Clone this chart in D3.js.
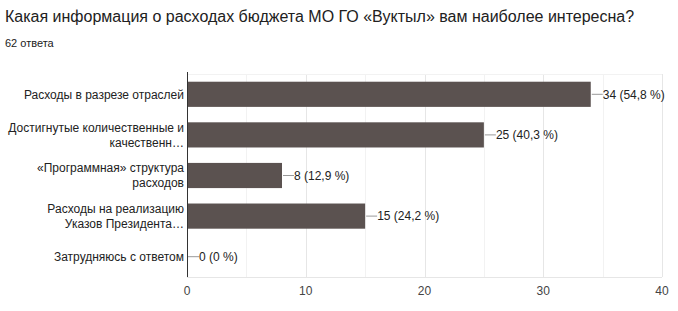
<!DOCTYPE html>
<html>
<head>
<meta charset="utf-8">
<script src="https://cdn.jsdelivr.net/npm/d3@7"></script>
<style>
  body { margin: 0; background: #fff; }
  svg { font-family: Arial, "Liberation Sans", sans-serif; }
</style>
</head>
<body>
<svg id="chart" width="678" height="311"></svg>
<script>
var title = "Какая информация о расходах бюджета МО ГО «Вуктыл» вам наиболее интересна?";
var subtitle = "62 ответа";
var categories = [
  ["Расходы в разрезе отраслей"],
  ["Достигнутые количественные и", "качественн…"],
  ["«Программная» структура", "расходов"],
  ["Расходы на реализацию", "Указов Президента…"],
  ["Затрудняюсь с ответом"]
];
var counts = [34, 25, 8, 15, 0];
var percents = ["54,8", "40,3", "12,9", "24,2", "0"];
var ticks = [0, 10, 20, 30, 40];

var svg = d3.select("#chart");
var plotLeft = 187, plotRight = 662, plotTop = 74, plotBottom = 277;

svg.append("text").attr("x", 5).attr("y", 22)
  .attr("font-size", 16).attr("fill", "#212121").text(title);
svg.append("text").attr("x", 5).attr("y", 47)
  .attr("font-size", 11).attr("fill", "#212121").text(subtitle);

var x = d3.scaleLinear().domain([0, 40]).range([plotLeft, plotRight]);
var y = d3.scaleBand().domain(d3.range(categories.length)).range([plotTop, plotBottom]).paddingInner(0.38).paddingOuter(0.19);

// grid
svg.append("g").selectAll("line").data(d3.range(5, 41, 5)).enter().append("line")
  .attr("x1", function(d){ return Math.round(x(d)) + 0.5; }).attr("x2", function(d){ return Math.round(x(d)) + 0.5; })
  .attr("y1", plotTop).attr("y2", plotBottom)
  .attr("stroke", function(d){ return d % 10 == 0 ? "#e6e6e6" : "#f2f2f2"; });
svg.append("line").attr("x1", plotLeft).attr("x2", plotRight).attr("y1", plotBottom + 0.5).attr("y2", plotBottom + 0.5).attr("stroke", "#e6e6e6");
svg.append("line").attr("x1", plotLeft).attr("x2", plotRight).attr("y1", plotTop + 0.5).attr("y2", plotTop + 0.5).attr("stroke", "#f2f2f2");

// bars
svg.append("g").selectAll("rect").data(counts).enter().append("rect")
  .attr("x", x(0))
  .attr("y", function(d, i){ return y(i); })
  .attr("width", function(d){ return x(d) - x(0); })
  .attr("height", y.bandwidth())
  .attr("fill", "#5b5250");

// axis line
svg.append("line").attr("x1", plotLeft + 0.5).attr("x2", plotLeft + 0.5).attr("y1", plotTop - 2).attr("y2", plotBottom)
  .attr("stroke", "#333");

// value labels with leader lines
var vl = svg.append("g").selectAll("g").data(counts).enter().append("g")
  .attr("transform", function(d, i){ return "translate(" + x(d) + "," + (y(i) + y.bandwidth() / 2) + ")"; });
vl.append("line").attr("x1", 1).attr("x2", 12).attr("stroke", "#999");
vl.append("text").attr("x", 12).attr("dy", "0.36em").attr("font-size", 12).attr("fill", "#222")
  .text(function(d, i){ return d + " (" + percents[i] + " %)"; });

// category labels
var cl = svg.append("g").selectAll("text").data(categories).enter().append("text")
  .attr("text-anchor", "end").attr("font-size", 12).attr("fill", "#222")
  .attr("transform", function(d, i){ return "translate(184," + (y(i) + y.bandwidth() / 2) + ")"; });
cl.selectAll("tspan").data(function(d){ return d; }).enter().append("tspan")
  .attr("x", 0)
  .attr("y", function(d, j, nodes){ return (j - (nodes.length - 1) / 2) * 15; })
  .attr("dy", "0.36em")
  .text(function(d){ return d; });

// x ticks
svg.append("g").selectAll("text").data(ticks).enter().append("text")
  .attr("x", function(d){ return x(d); }).attr("y", 295)
  .attr("text-anchor", "middle").attr("font-size", 12).attr("fill", "#444")
  .text(function(d){ return d; });
</script>
</body>
</html>
